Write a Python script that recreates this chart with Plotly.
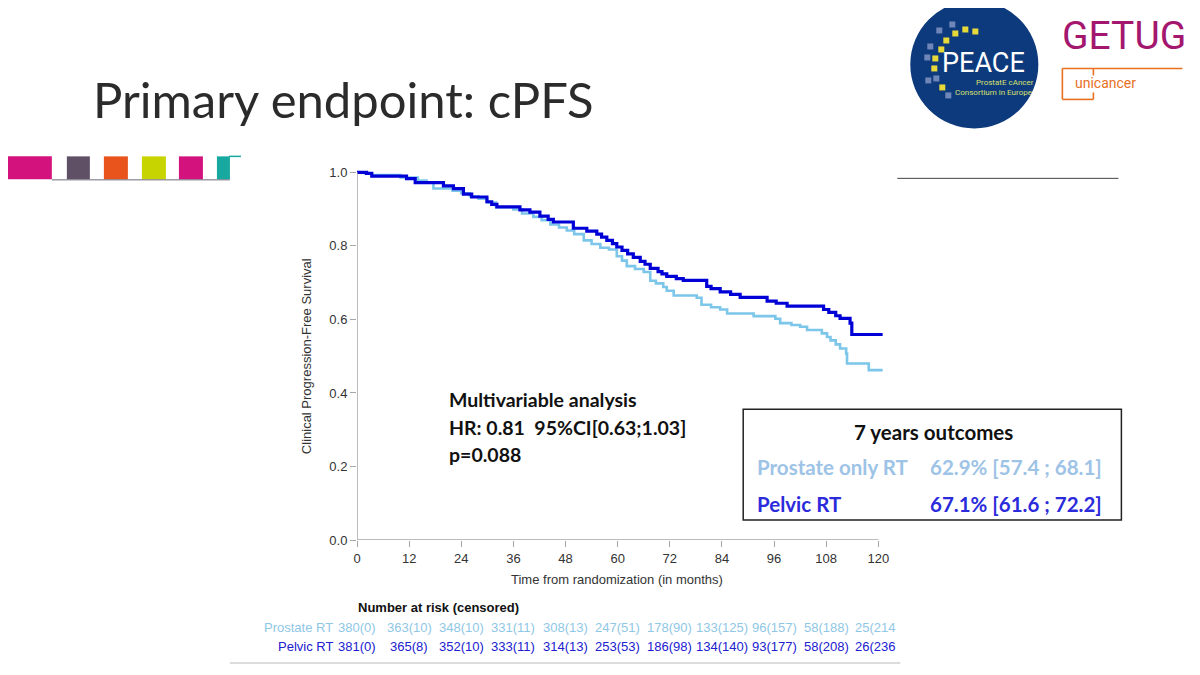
import plotly.graph_objects as go

# ---------------- data ----------------
pelvic_t = [0, 2.2, 3.4, 11.4, 13.4, 19.9, 22.2, 24.5, 26.4, 29.9, 31.0, 32.2, 37.5, 39.8, 42.1, 44.0, 45.2,
            49.8, 52.9, 55.2, 56.3, 57.5, 58.8, 59.8, 61.0, 62.3, 63.6, 65.2, 66.3, 67.5, 69.3, 70.2, 71.3,
            73.5, 75.1, 80.5, 81.5, 83.6, 86.0, 88.2, 94.4, 96.5, 99.0, 107.4, 108.6, 110.2, 111.2, 113.5,
            113.9, 121]
pelvic_s = [1.0, 0.997, 0.99, 0.983, 0.972, 0.963, 0.956, 0.941, 0.933, 0.92, 0.913, 0.906, 0.898, 0.892,
            0.881, 0.872, 0.865, 0.848, 0.840, 0.832, 0.824, 0.815, 0.806, 0.797, 0.788, 0.778, 0.769, 0.758,
            0.750, 0.739, 0.730, 0.724, 0.717, 0.711, 0.706, 0.690, 0.684, 0.675, 0.668, 0.660, 0.650, 0.644,
            0.636, 0.627, 0.619, 0.610, 0.603, 0.590, 0.559, 0.559]

prostate_t = [0, 1.8, 3.4, 10.0, 14.0, 16.0, 17.6, 22.0, 24.0, 26.0, 28.0, 30.0, 32.0, 36.0, 38.0, 40.6,
              42.5, 44.5, 46.5, 48.3, 50.0, 52.2, 54.0, 56.0, 58.0, 59.8, 61.0, 62.1, 64.0, 66.0, 67.5, 68.8,
              70.5, 71.3, 72.9, 78.2, 79.3, 81.5, 83.6, 85.2, 91.3, 96.3, 97.4, 100.0, 102.0, 103.6, 107.0,
              108.2, 109.0, 110.2, 111.2, 112.6, 112.8, 117.8, 121]
prostate_s = [1.0, 0.997, 0.993, 0.986, 0.978, 0.972, 0.956, 0.950, 0.943, 0.935, 0.928, 0.918, 0.905, 0.899,
              0.888, 0.879, 0.870, 0.858, 0.850, 0.842, 0.832, 0.815, 0.805, 0.795, 0.790, 0.772, 0.760, 0.745,
              0.737, 0.729, 0.705, 0.698, 0.688, 0.678, 0.665, 0.659, 0.640, 0.633, 0.627, 0.616, 0.609, 0.602,
              0.590, 0.585, 0.580, 0.571, 0.562, 0.552, 0.543, 0.532, 0.521, 0.507, 0.480, 0.462, 0.462]

x_ticks = [0, 12, 24, 36, 48, 60, 72, 84, 96, 108, 120]
y_ticks = [0.0, 0.2, 0.4, 0.6, 0.8, 1.0]

risk_prostate = ["380(0)", "363(10)", "348(10)", "331(11)", "308(13)", "247(51)", "178(90)",
                 "133(125)", "96(157)", "58(188)", "25(214"]
risk_pelvic = ["381(0)", "365(8)", "352(10)", "333(11)", "314(13)", "253(53)", "186(98)",
               "134(140)", "93(177)", "58(208)", "26(236"]

outcome_groups = ["Prostate only RT", "Pelvic RT"]
outcome_values = ["62.9% [57.4 ; 68.1]", "67.1% [61.6 ; 72.2]"]

# ---------------- colours ----------------
DARK = "#0000d6"
LIGHT = "#7cc6ea"
TXT_LIGHT = "#8fc7e6"
TXT_DARK = "#2020d0"
BOX_LIGHT = "#9dc3e6"
BOX_DARK = "#2b2bdc"

# ---------------- geometry ----------------
OFF = 8  # page body margin offset
WIDTH, HEIGHT = 1200 - OFF, 675 - OFF
L = 357.0 - OFF
PX_PER_MONTH = 4.342
XMAX = 122
W = XMAX * PX_PER_MONTH
R = WIDTH - L - W
Y0 = 540.0 - OFF
PX_PER_UNIT = 368.0
YMAX = 1.02
H = YMAX * PX_PER_UNIT
T = Y0 - H
B = HEIGHT - Y0


def px(xp):
    return (xp - OFF - L) / W


def py(yp):
    return (Y0 - (yp - OFF)) / H


fig = go.Figure()
fig.add_trace(go.Scatter(x=prostate_t, y=prostate_s, mode="lines", line=dict(color=LIGHT, width=2.6, shape="hv"),
                         name="Prostate RT", hoverinfo="skip"))
fig.add_trace(go.Scatter(x=pelvic_t, y=pelvic_s, mode="lines", line=dict(color=DARK, width=3.2, shape="hv"),
                         name="Pelvic RT", hoverinfo="skip"))

shapes = []
ann = []
AXC = "#a6a6a6"
# axis lines
shapes.append(dict(type="line", xref="x", yref="y", x0=0, x1=0, y0=0, y1=1.0, line=dict(color=AXC, width=1.5)))
shapes.append(dict(type="line", xref="x", yref="y", x0=0, x1=120, y0=0, y1=0, line=dict(color=AXC, width=1.5)))

# title
ann.append(dict(text="Primary endpoint: cPFS", xref="paper", yref="paper", x=px(91), y=py(99),
                xanchor="left", yanchor="middle", showarrow=False,
                font=dict(family="Lato", size=49, color="#2b2b2b")))

# colour bars
bars = [(0, 52, "#d4127e"), (67, 90, "#5f5066"), (104, 128, "#e8541c"), (142, 166, "#c8d400"),
        (179, 203, "#d4127e"), (217, 230, "#17a9a0")]
for x0, x1, c in bars:
    shapes.append(dict(type="rect", xref="paper", yref="paper", x0=px(x0), x1=px(x1), y0=py(179), y1=py(156),
                       fillcolor=c, line=dict(width=0), layer="above"))
shapes.append(dict(type="line", xref="paper", yref="paper", x0=px(52), x1=px(230), y0=py(179.5), y1=py(179.5),
                   line=dict(color="#6b6b7a", width=1)))
shapes.append(dict(type="line", xref="paper", yref="paper", x0=px(229), x1=px(241), y0=py(156), y1=py(156),
                   line=dict(color="#17a9a0", width=1.5)))

# right separator line
shapes.append(dict(type="line", xref="paper", yref="paper", x0=px(897), x1=px(1118), y0=py(178), y1=py(178),
                   line=dict(color="#444444", width=1)))
# bottom line under risk table
shapes.append(dict(type="line", xref="paper", yref="paper", x0=px(230), x1=px(900), y0=py(663), y1=py(663),
                   line=dict(color="#d0d0d0", width=1.5)))

# PEACE logo
cx, cy, r = 974, 64, 64
shapes.append(dict(type="circle", xref="paper", yref="paper", x0=px(cx - r), x1=px(cx + r), y0=py(cy + r),
                   y1=py(cy - r), fillcolor="#0d3a7c", line=dict(width=0)))
dots = [(939, 30, "#6f86b8"), (946, 40, "#e8d93a"), (941, 49, "#e8d93a"), (935, 58, "#e8d93a"),
        (934, 68, "#e8d93a"), (936, 78, "#6f86b8"), (942, 87, "#e8d93a"), (930, 46, "#6f86b8"),
        (927, 57, "#6f86b8"), (928, 80, "#6f86b8"), (955, 33, "#e8d93a"), (965, 29, "#e8d93a"),
        (975, 31, "#e8d93a"), (948, 95, "#6f86b8"), (952, 24, "#6f86b8")]
for dx, dy, c in dots:
    shapes.append(dict(type="rect", xref="paper", yref="paper", x0=px(dx - 3), x1=px(dx + 3), y0=py(dy + 3),
                       y1=py(dy - 3), fillcolor=c, line=dict(width=0)))
ann.append(dict(text="PEACE", xref="paper", yref="paper", x=px(983), y=py(63), showarrow=False,
                xanchor="center", yanchor="middle", font=dict(family="Roboto", size=27, color="white")))
ann.append(dict(text="ProstatE cAncer", xref="paper", yref="paper", x=px(1005), y=py(82), showarrow=False,
                xanchor="center", yanchor="middle", font=dict(family="Roboto", size=8, color="#d8e070")))
ann.append(dict(text="Consortium in Europe", xref="paper", yref="paper", x=px(993), y=py(92), showarrow=False,
                xanchor="center", yanchor="middle", font=dict(family="Roboto", size=8, color="#d8e070")))

# GETUG / unicancer logo
ann.append(dict(text="GETUG", xref="paper", yref="paper", x=px(1060), y=py(36), showarrow=False,
                xanchor="left", yanchor="middle", font=dict(family="Roboto", size=39, color="#a3176e")))
ann.append(dict(text="unicancer", xref="paper", yref="paper", x=px(1073), y=py(83), showarrow=False,
                xanchor="left", yanchor="middle", font=dict(family="Roboto", size=14, color="#e8701e")))
OR = "#e8701e"
for (x0, y0, x1, y1) in [(1062, 68, 1182, 68), (1062, 68, 1062, 99), (1062, 99, 1093, 99),
                         (1093, 68, 1093, 75), (1093, 92, 1093, 99)]:
    shapes.append(dict(type="line", xref="paper", yref="paper", x0=px(x0), x1=px(x1), y0=py(y0), y1=py(y1),
                       line=dict(color=OR, width=1.6)))

# axis titles
ann.append(dict(text="Clinical Progression-Free Survival", xref="paper", yref="paper", x=px(306), y=py(356),
                textangle=-90, showarrow=False, xanchor="center", yanchor="middle",
                font=dict(family="Arial", size=13, color="#333333")))
ann.append(dict(text="Time from randomization (in months)", xref="paper", yref="paper", x=px(617), y=py(580),
                showarrow=False, xanchor="center", yanchor="middle",
                font=dict(family="Arial", size=13, color="#333333")))

# analysis text
for txt, yy in [("Multivariable analysis", 399), ("HR: 0.81  95%CI[0.63;1.03]", 427), ("p=0.088", 454)]:
    ann.append(dict(text="<b>" + txt + "</b>", xref="paper", yref="paper", x=px(447), y=py(yy), showarrow=False,
                    xanchor="left", yanchor="middle", font=dict(family="Lato", size=19.5, color="#111111")))

# outcomes box
shapes.append(dict(type="rect", xref="paper", yref="paper", x0=px(743), x1=px(1121), y0=py(520), y1=py(409),
                   fillcolor="white", line=dict(color="#222222", width=1.5), layer="above"))
ann.append(dict(text="<b>7 years outcomes</b>", xref="paper", yref="paper", x=px(933), y=py(432), showarrow=False,
                xanchor="center", yanchor="middle", font=dict(family="Lato", size=20.5, color="#111111")))
for grp, val, col, yy in [(outcome_groups[0], outcome_values[0], BOX_LIGHT, 467),
                          (outcome_groups[1], outcome_values[1], BOX_DARK, 504)]:
    ann.append(dict(text="<b>" + grp + "</b>", xref="paper", yref="paper", x=px(755), y=py(yy), showarrow=False,
                    xanchor="left", yanchor="middle", font=dict(family="Lato", size=20.5, color=col)))
    ann.append(dict(text="<b>" + val + "</b>", xref="paper", yref="paper", x=px(1104), y=py(yy), showarrow=False,
                    xanchor="right", yanchor="middle", font=dict(family="Lato", size=20.5, color=col)))

# risk table
ann.append(dict(text="<b>Number at risk (censored)</b>", xref="paper", yref="paper", x=px(438), y=py(608),
                showarrow=False, xanchor="center", yanchor="middle",
                font=dict(family="Arial", size=13, color="#111111")))
for label, vals, col, yy in [("Prostate RT", risk_prostate, TXT_LIGHT, 628),
                             ("Pelvic RT", risk_pelvic, TXT_DARK, 647)]:
    ann.append(dict(text=label, xref="paper", yref="paper", x=px(335), y=py(yy), showarrow=False,
                    xanchor="right", yanchor="middle", font=dict(family="Arial", size=13, color=col)))
    for i, v in enumerate(vals):
        last = i == len(vals) - 1
        ann.append(dict(text=v, xref="x", yref="paper", x=x_ticks[i], y=py(yy), showarrow=False,
                        xanchor="center", yanchor="middle", xshift=-3 if last else 0,
                        font=dict(family="Arial", size=13, color=col)))

fig.update_layout(
    width=WIDTH, height=HEIGHT,
    margin=dict(l=L, r=R, t=T, b=B, pad=0),
    paper_bgcolor="white", plot_bgcolor="white",
    showlegend=False,
    xaxis=dict(range=[0, XMAX], tickvals=x_ticks, ticks="outside", ticklen=6, tickcolor=AXC, tickwidth=1.2,
               showgrid=False, zeroline=False, showline=False,
               tickfont=dict(family="Arial", size=13, color="#333333"), fixedrange=True),
    yaxis=dict(range=[0, YMAX], tickvals=y_ticks, tickformat=".1f", ticks="outside", ticklen=6, tickcolor=AXC,
               tickwidth=1.2, showgrid=False, zeroline=False, showline=False,
               tickfont=dict(family="Arial", size=13, color="#333333"), fixedrange=True),
    shapes=shapes, annotations=ann,
)

fig.write_html("out.html")
